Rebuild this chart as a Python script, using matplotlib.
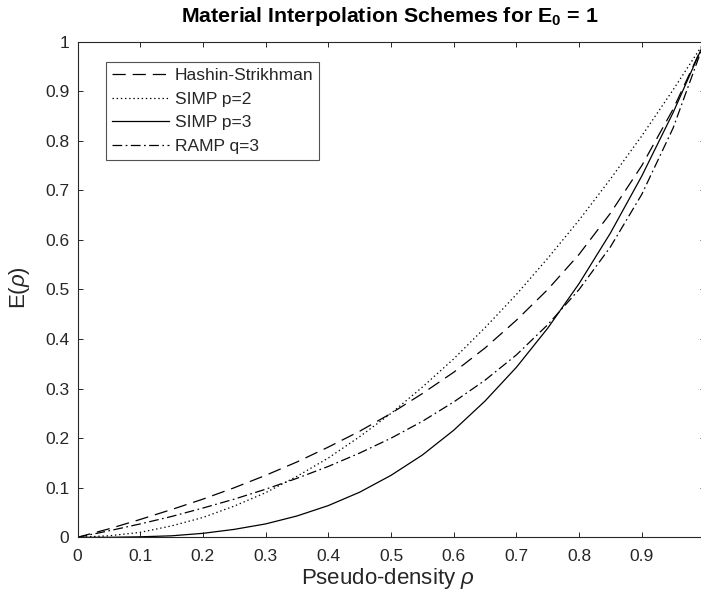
import matplotlib
matplotlib.use("Agg")
import matplotlib.pyplot as plt

plt.rcParams['font.family'] = ['Liberation Sans', 'DejaVu Sans']
plt.rcParams['mathtext.fontset'] = 'custom'
plt.rcParams['mathtext.rm'] = 'Liberation Sans'
plt.rcParams['mathtext.it'] = 'Liberation Sans:italic'
plt.rcParams['mathtext.bf'] = 'Liberation Sans:bold'
plt.rcParams['lines.scale_dashes'] = False

# Data (pseudo-density vs. stiffness)
rho = [0.00, 0.05, 0.10, 0.15, 0.20, 0.25, 0.30, 0.35, 0.40, 0.45, 0.50,
       0.55, 0.60, 0.65, 0.70, 0.75, 0.80, 0.85, 0.90, 0.95, 1.00]
hashin = [0.000, 0.017, 0.036, 0.056, 0.077, 0.100, 0.125, 0.152, 0.182, 0.214, 0.250,
          0.290, 0.333, 0.382, 0.438, 0.500, 0.571, 0.654, 0.750, 0.864, 1.000]
simp2 = [0.000, 0.003, 0.010, 0.023, 0.040, 0.063, 0.090, 0.123, 0.160, 0.203, 0.250,
         0.303, 0.360, 0.423, 0.490, 0.563, 0.640, 0.723, 0.810, 0.903, 1.000]
simp3 = [0.000, 0.000, 0.001, 0.003, 0.008, 0.016, 0.027, 0.043, 0.064, 0.091, 0.125,
         0.166, 0.216, 0.275, 0.343, 0.422, 0.512, 0.614, 0.729, 0.857, 1.000]
ramp3 = [0.000, 0.013, 0.027, 0.042, 0.059, 0.077, 0.097, 0.119, 0.143, 0.170, 0.200,
         0.234, 0.273, 0.317, 0.368, 0.429, 0.500, 0.586, 0.692, 0.826, 1.000]
labels = ['Hashin-Strikhman', 'SIMP p=2', 'SIMP p=3', 'RAMP q=3']
xticks = [0, 0.1, 0.2, 0.3, 0.4, 0.5, 0.6, 0.7, 0.8, 0.9]
yticks = [0, 0.1, 0.2, 0.3, 0.4, 0.5, 0.6, 0.7, 0.8, 0.9, 1.0]

W, H = 701, 600
fig = plt.figure(figsize=(W / 100, H / 100), dpi=100)
ax = fig.add_axes([77.5 / W, (H - 537.3) / H, 627 / W, 495.6 / H])

gray = '#262626'
lw = 0.9
ax.plot(rho, hashin, color='black', lw=lw, dashes=(9.5, 5.0), label=labels[0])
ax.plot(rho, simp2, color='black', lw=lw, dashes=(1.0, 2.0), label=labels[1])
ax.plot(rho, simp3, color='black', lw=lw, linestyle='-', label=labels[2])
ax.plot(rho, ramp3, color='black', lw=lw, dashes=(7.0, 2.5, 1.2, 2.5), label=labels[3])

ax.set_xlim(0, 1)
ax.set_ylim(0, 1)
ax.set_xticks(xticks)
ax.set_xticklabels(['0' if v == 0 else f'{v:g}' for v in xticks])
ax.set_yticks(yticks)
ax.set_yticklabels([f'{v:g}' for v in yticks])

for s in ax.spines.values():
    s.set_color(gray)
    s.set_linewidth(0.8)
ax.tick_params(direction='in', length=3.6, width=0.7, colors=gray,
               top=True, right=True, labelsize=12.5)
ax.tick_params(axis='x', pad=8.5)
ax.tick_params(axis='y', pad=6)

ax.set_xlabel(r'Pseudo-density $\rho$', fontsize=16, color=gray)
ax.xaxis.set_label_coords((388 - 77.5) / 627, (537.3 - 566) / 495.6)
ax.set_ylabel(r'E($\rho$)', fontsize=16, color=gray)
ax.yaxis.set_label_coords((32 - 77.5) / 627, (537.3 - 288) / 495.6)

fig.text(390 / W, 1 - 22 / H, r'Material Interpolation Schemes for $\mathbf{E_0}$ = 1',
         ha='center', va='baseline', fontsize=15.4, fontweight='bold', color='black')

leg = ax.legend(loc='upper left', bbox_to_anchor=((106 - 77.5) / 627, (537.3 - 62) / 495.6),
                fontsize=12.5, frameon=True, fancybox=False, handlelength=3.3,
                handletextpad=0.3, labelspacing=0.48, borderpad=0.35, borderaxespad=0)
leg.get_frame().set_edgecolor(gray)
leg.get_frame().set_linewidth(0.8)
for t in leg.get_texts():
    t.set_color(gray)

fig.savefig('out.png', dpi=100)
